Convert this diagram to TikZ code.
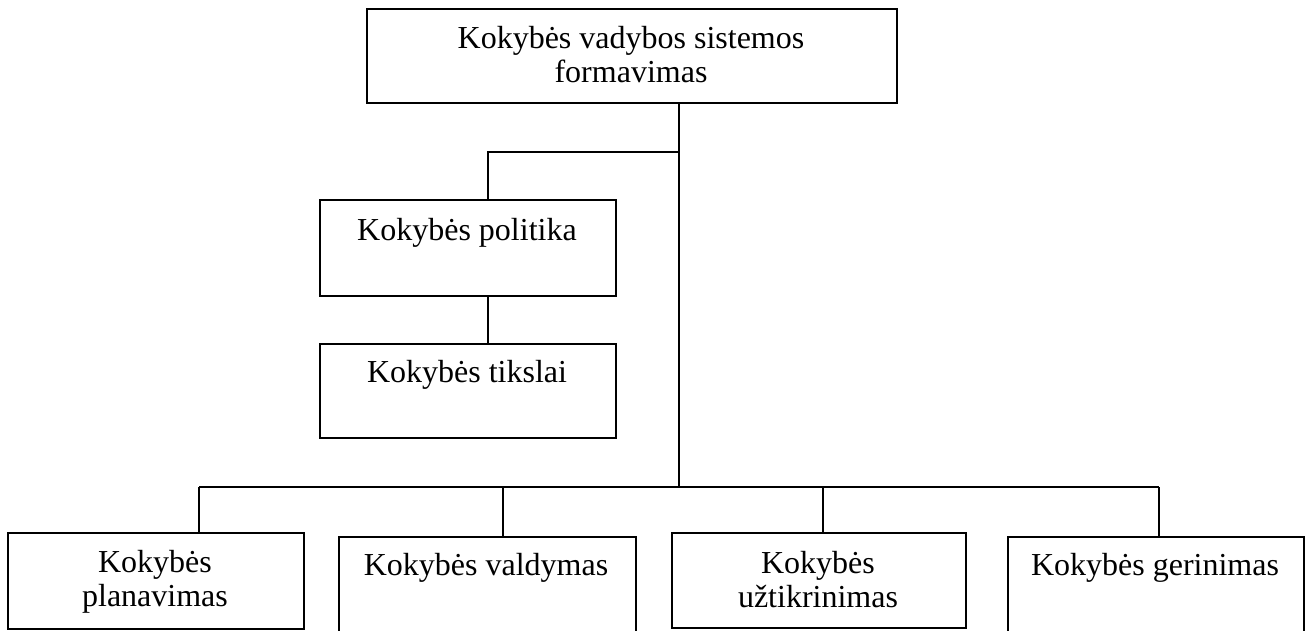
\documentclass[tikz,border=0pt]{standalone}
\usepackage{fontspec}
\setmainfont{Liberation Serif}
\begin{document}
\begin{tikzpicture}[x=1pt,y=-1pt,
  box/.style={draw, line width=1.8pt, anchor=north west, inner sep=0pt},
  txt/.style={anchor=base, align=center, inner sep=0pt,
    font=\fontsize{32}{34}\selectfont},
  link/.style={line width=1.8pt}]
\useasboundingbox (0,0) rectangle (1306,630);

% boxes
\node[box, minimum width=530pt, minimum height=94pt] (top)  at (366,8)   {};
\node[box, minimum width=296pt, minimum height=96pt] (pol)  at (319,199) {};
\node[box, minimum width=296pt, minimum height=94pt] (tik)  at (319,343) {};
\node[box, minimum width=296pt, minimum height=96pt] (plan) at (7,532)   {};
\node[box, minimum width=297pt, minimum height=110pt] (vald) at (338,536) {};
\node[box, minimum width=294pt, minimum height=95pt] (uzt)  at (671,532) {};
\node[box, minimum width=296pt, minimum height=110pt] (ger)  at (1007,536) {};

% labels (base anchor sits on the last line)
\node[txt] (topT)  at (631,82)  {Kokybės vadybos sistemos\\formavimas};
\node[txt] (polT)  at (467,240) {Kokybės politika};
\node[txt] (tikT)  at (467,382) {Kokybės tikslai};
\node[txt] (planT) at (155,606) {Kokybės\\planavimas};
\node[txt] (valdT) at (486,575) {Kokybės valdymas};
\node[txt] (uztT)  at (818,607) {Kokybės\\užtikrinimas};
\node[txt] (gerT)  at (1155,575) {Kokybės gerinimas};

% junction points
\coordinate (j1) at (679,152);
\coordinate (c1) at (488,152);
\coordinate (t1) at (199,487);
\coordinate (t2) at (503,487);
\coordinate (t3) at (823,487);
\coordinate (t4) at (1159,487);

% connectors
\draw[link] (top.south -| j1) -- (j1 |- t1);
\draw[link] (j1) -- (c1) -- (c1 |- pol.north);
\draw[link] (c1 |- pol.south) -- (c1 |- tik.north);
\draw[link] (t1) -- (t4);
\draw[link] (t1) -- (t1 |- plan.north);
\draw[link] (t2) -- (t2 |- vald.north);
\draw[link] (t3) -- (t3 |- uzt.north);
\draw[link] (t4) -- (t4 |- ger.north);
\end{tikzpicture}
\end{document}
